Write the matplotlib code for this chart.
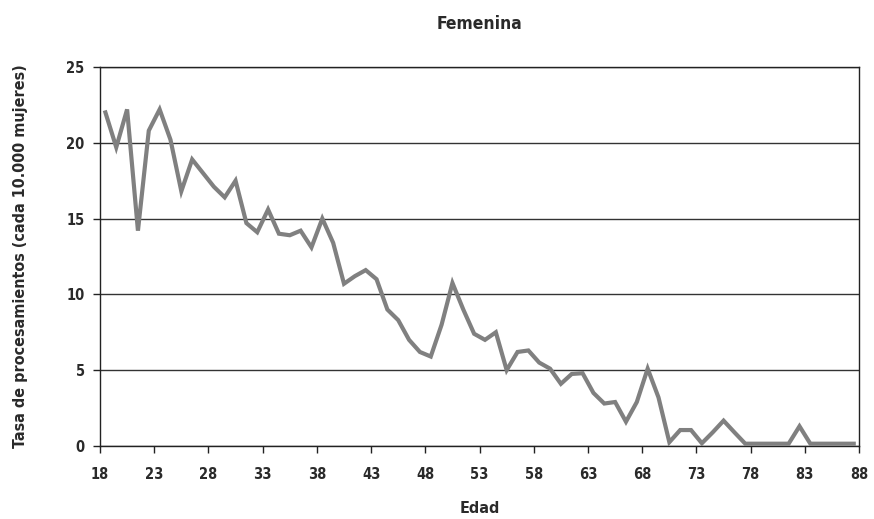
import numpy as np
import matplotlib.pyplot as plt

# edades 18..87, tasa cada 10.000 mujeres
edades = list(range(18, 88))
tasa = [22.0, 19.7, 22.2, 14.2, 20.8, 22.2, 20.2, 16.8, 18.9, 18.0,
        17.1, 16.4, 17.5, 14.7, 14.1, 15.6, 14.0, 13.9, 14.2, 13.1,
        15.0, 13.4, 10.7, 11.2, 11.6, 11.0, 9.0, 8.3, 7.0, 6.2,
        5.9, 8.0, 10.75, 9.0, 7.4, 7.0, 7.5, 5.0, 6.2, 6.3,
        5.5, 5.1, 4.1, 4.75, 4.8, 3.5, 2.8, 2.9, 1.6, 2.9,
        5.1, 3.2, 0.25, 1.05, 1.05, 0.18, 0.9, 1.67, 0.9, 0.15,
        0.15, 0.15, 0.15, 0.15, 1.3, 0.15, 0.15, 0.15, 0.15, 0.15]
xticks = list(range(18, 89, 5))
yticks = [0, 5, 10, 15, 20, 25]

plt.rcParams['font.family'] = ['DejaVu Sans']
plt.rcParams['font.stretch'] = 'condensed'
plt.rcParams['font.weight'] = 'bold'
txt = '#2a2a2a'

fig = plt.figure(figsize=(8.74, 5.19), dpi=100)
ax = fig.add_axes([0.1144, 0.1407, 0.8686, 0.7303])

# categorias centradas entre marcas
x = np.array(edades) + 0.5
ax.plot(x, tasa, color='#808080', lw=3.0, solid_joinstyle='miter', zorder=3)

ax.set_xlim(18, 88)
ax.set_ylim(0, 25)
ax.set_xticks(xticks)
ax.set_yticks(yticks)
ax.yaxis.grid(True, color='#333333', lw=1.0)
ax.set_axisbelow(True)
for s in ax.spines.values():
    s.set_color('#222222')
    s.set_linewidth(1.0)

ax.tick_params(axis='both', direction='out', length=5, width=1, color='#222222',
               labelsize=10.5, labelcolor=txt, pad=6)
ax.tick_params(axis='x', pad=10)

ax.set_title('Femenina', fontsize=12.5, color=txt, pad=27, fontweight='bold')
ax.set_xlabel('Edad', fontsize=11.5, color=txt, labelpad=14, fontweight='bold')
ax.set_ylabel('Tasa de procesamientos (cada 10.000 mujeres)', fontsize=11.5,
              color=txt, labelpad=28, fontweight='bold')

fig.savefig('out.png', dpi=100)
